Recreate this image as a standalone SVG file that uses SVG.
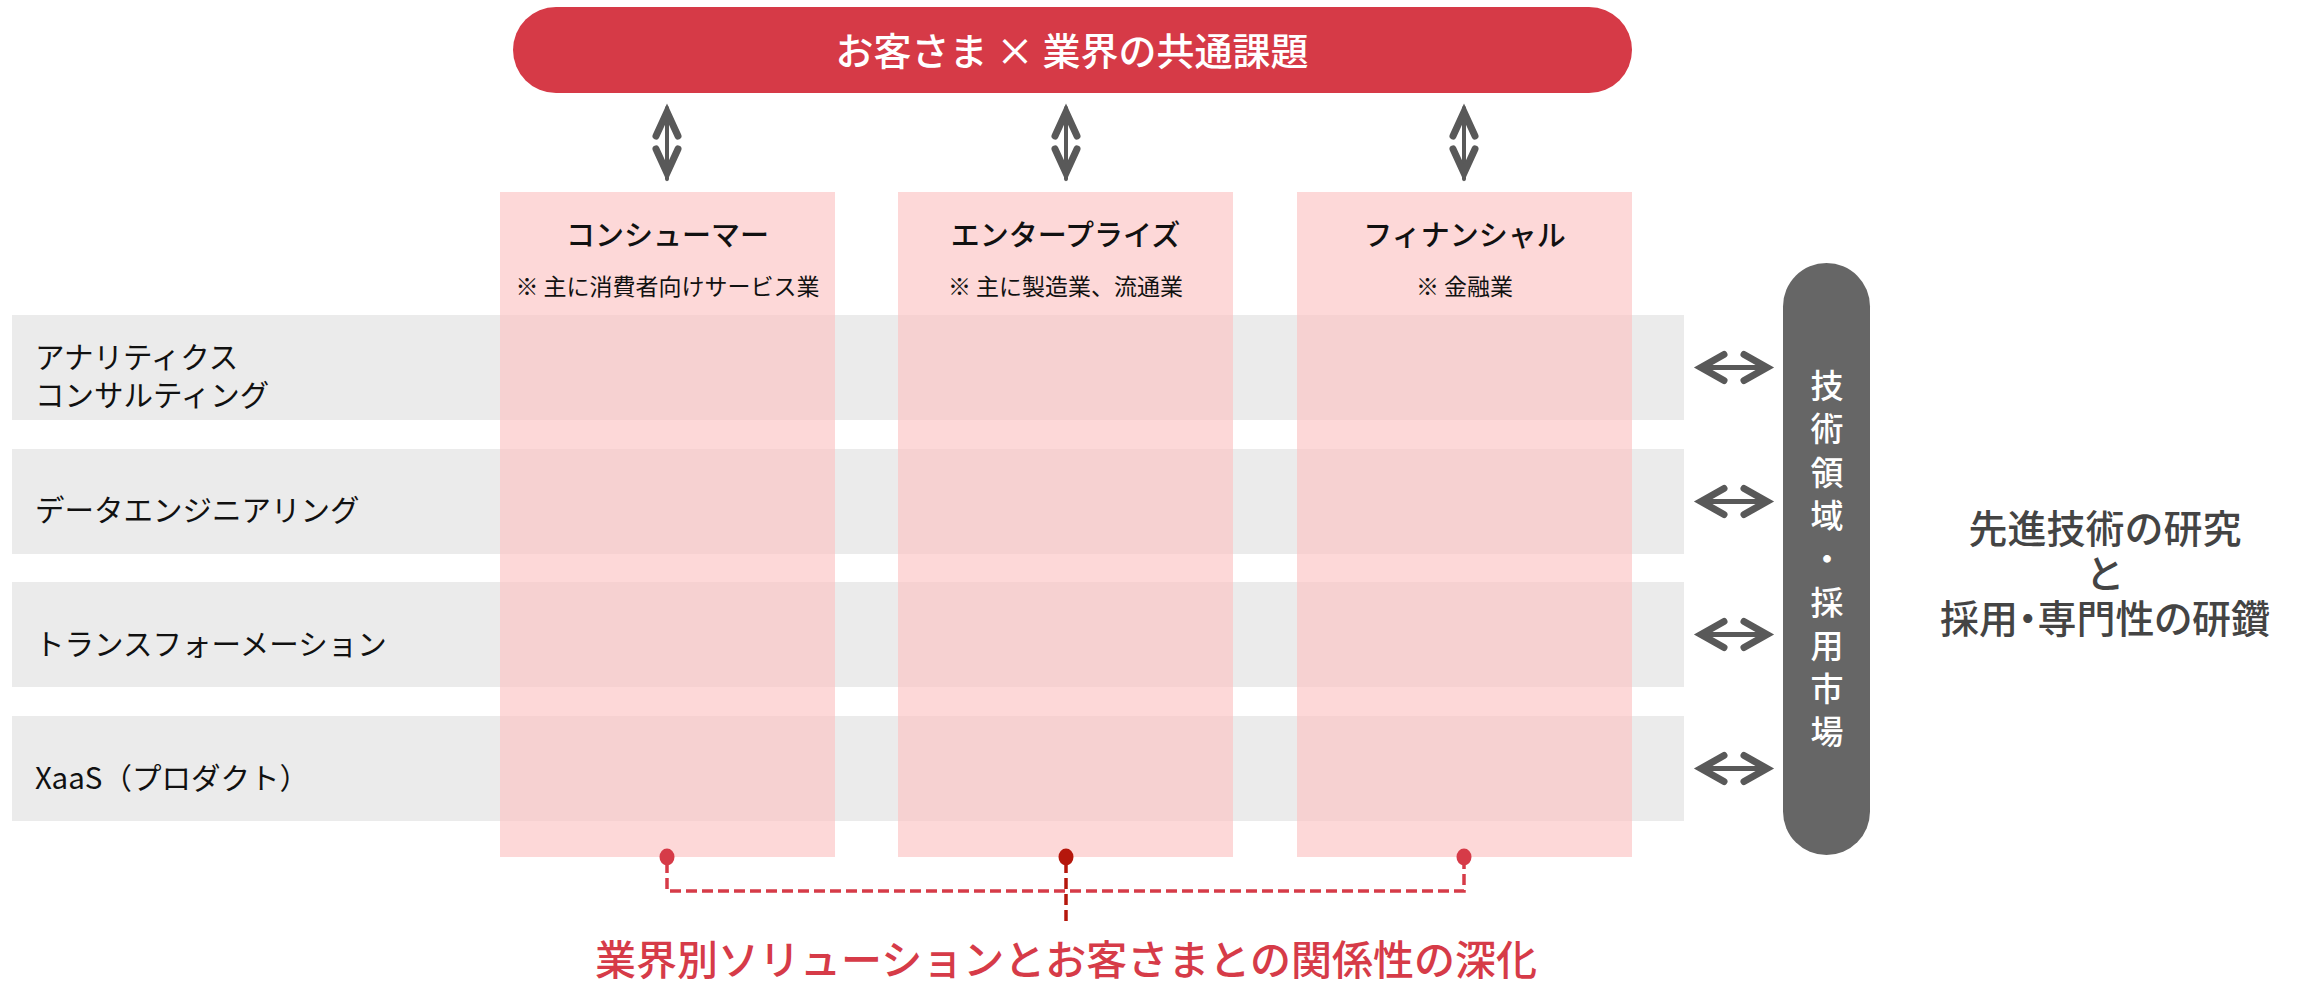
<svg xmlns="http://www.w3.org/2000/svg" width="2300" height="984" viewBox="0 0 2300 984">
<defs>
<style>
text{font-family:"Noto Sans CJK JP","Noto Sans",sans-serif;}
.row{fill:#ebebeb;}
.col{fill:#fcc3c3;fill-opacity:0.65;}
.rowt{font-size:29.5px;fill:#111;font-weight:400;}
.colh{font-size:29px;fill:#111;font-weight:500;text-anchor:middle;}
.cols{font-size:23px;fill:#111;font-weight:400;text-anchor:middle;}
.arr{fill:none;stroke:#595959;stroke-linecap:round;stroke-miterlimit:12;}
.vt{font-size:33px;fill:#fff;font-weight:500;writing-mode:vertical-rl;text-orientation:upright;letter-spacing:10.3px;}
.dash{fill:none;stroke-width:3.5;stroke-dasharray:11 5;}
.palt{font-feature-settings:"palt";}
</style>
</defs>
<rect width="2300" height="984" fill="#fff"/>

<g id="rows">
<g id="row-analytics"><rect class="row" x="12" y="315" width="1672" height="105"/>
<text class="rowt" x="35" y="368">アナリティクス</text><text class="rowt" x="35" y="406">コンサルティング</text></g>
<g id="row-data"><rect class="row" x="12" y="449" width="1672" height="105"/>
<text class="rowt" x="35" y="521">データエンジニアリング</text></g>
<g id="row-transformation"><rect class="row" x="12" y="582" width="1672" height="105"/>
<text class="rowt" x="35" y="655">トランスフォーメーション</text></g>
<g id="row-xaas"><rect class="row" x="12" y="716" width="1672" height="105"/>
<text class="rowt" x="35" y="789">XaaS（プロダクト）</text></g>
</g>

<g id="columns">
<g id="col-consumer"><rect class="col" x="500" y="192" width="335" height="665"/>
<text class="colh" x="667.5" y="246">コンシューマー</text><text class="cols" x="667.5" y="295">※ 主に消費者向けサービス業</text></g>
<g id="col-enterprise"><rect class="col" x="898" y="192" width="335" height="665"/>
<text class="colh" x="1065.5" y="246">エンタープライズ</text><text class="cols" x="1065.5" y="295">※ 主に製造業、流通業</text></g>
<g id="col-financial"><rect class="col" x="1297" y="192" width="335" height="665"/>
<text class="colh" x="1464.5" y="246">フィナンシャル</text><text class="cols" x="1464.5" y="295">※ 金融業</text></g>
</g>

<g id="top-issue">
<rect x="513" y="7" width="1119" height="86" rx="43" fill="#d63a47"/>
<text x="1072" y="65" font-size="38" font-weight="500" fill="#fff" text-anchor="middle">お客さま × 業界の共通課題</text>
</g>

<g id="tech-market">
<rect x="1783" y="263" width="87" height="592" rx="43.5" fill="#666"/>
<text class="vt" x="1827" y="369">技術領域・採用市場</text>
</g>

<g id="side-note" font-size="39" font-weight="500" fill="#444" text-anchor="middle">
<text x="2105" y="543">先進技術の研究</text>
<text x="2105" y="588">と</text>
<text class="palt" x="2105" y="633">採用・専門性の研鑽</text>
</g>

<g id="connectors">
<g id="v-arrows">
<path class="arr" stroke-width="4" d="M667 108 V179"/>
<path class="arr" stroke-width="7" d="M656 136 L667 112 L678 136 M656 149 L667 173 L678 149"/>
<path class="arr" stroke-width="4" d="M1066 108 V179"/>
<path class="arr" stroke-width="7" d="M1055 136 L1066 112 L1077 136 M1055 149 L1066 173 L1077 149"/>
<path class="arr" stroke-width="4" d="M1464 108 V179"/>
<path class="arr" stroke-width="7" d="M1453 136 L1464 112 L1475 136 M1453 149 L1464 173 L1475 149"/>
</g>
<g id="h-arrows">
<path class="arr" stroke-width="5" d="M1700 367.5 H1768"/>
<path class="arr" stroke-width="7" d="M1724 354.5 L1701 367.5 L1724 380.5 M1744 354.5 L1767 367.5 L1744 380.5"/>
<path class="arr" stroke-width="5" d="M1700 501.5 H1768"/>
<path class="arr" stroke-width="7" d="M1724 488.5 L1701 501.5 L1724 514.5 M1744 488.5 L1767 501.5 L1744 514.5"/>
<path class="arr" stroke-width="5" d="M1700 634.5 H1768"/>
<path class="arr" stroke-width="7" d="M1724 621.5 L1701 634.5 L1724 647.5 M1744 621.5 L1767 634.5 L1744 647.5"/>
<path class="arr" stroke-width="5" d="M1700 768.5 H1768"/>
<path class="arr" stroke-width="7" d="M1724 755.5 L1701 768.5 L1724 781.5 M1744 755.5 L1767 768.5 L1744 781.5"/>
</g>
<g id="bottom-link">
<path class="dash" stroke="#d63b48" d="M667 862 V891 H1464 V862"/>
<path class="dash" stroke="#b5170c" d="M1066 862 V924"/>
<ellipse cx="667" cy="857" rx="7.5" ry="8.5" fill="#d63b48"/>
<ellipse cx="1464" cy="857" rx="7.5" ry="8.5" fill="#d63b48"/>
<ellipse cx="1066" cy="857" rx="7.5" ry="8.5" fill="#b5170c"/>
</g>
</g>

<g id="bottom-label">
<text x="1066" y="975" font-size="41" font-weight="500" fill="#d63b48" text-anchor="middle">業界別ソリューションとお客さまとの関係性の深化</text>
</g>
</svg>
